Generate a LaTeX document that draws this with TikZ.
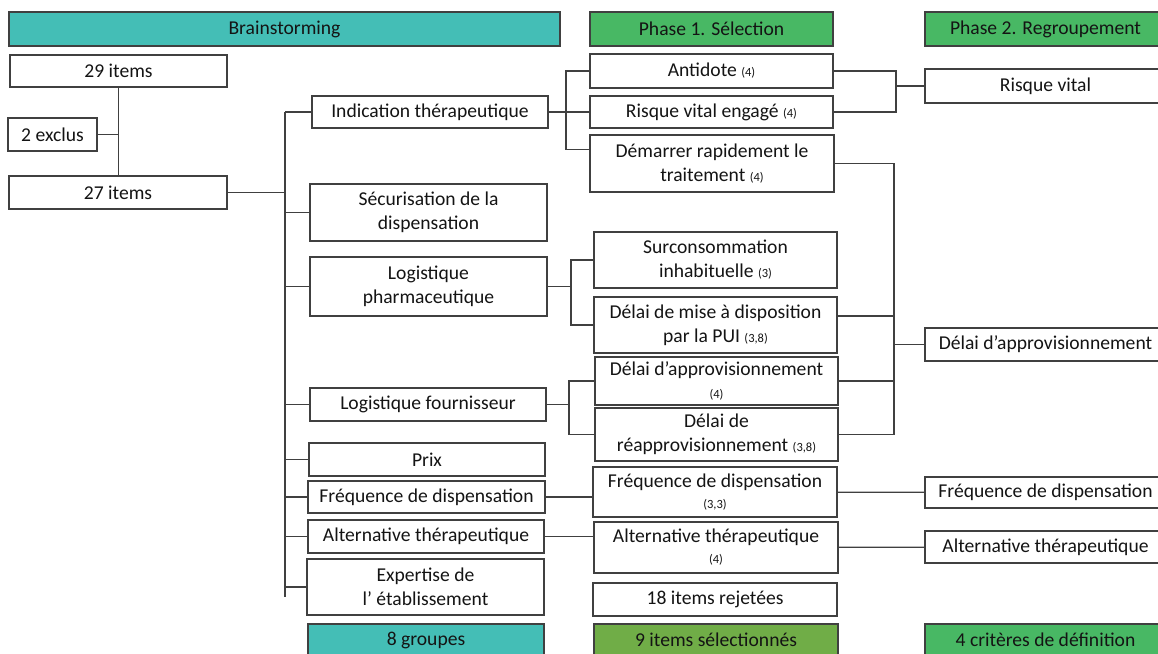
\documentclass[tikz,border=0pt]{standalone}
\usepackage{fontspec}
\setmainfont{Carlito}
\definecolor{brainteal}{RGB}{68,190,182}
\definecolor{phasegreen}{RGB}{72,184,100}
\definecolor{selgreen}{RGB}{112,173,71}
\definecolor{linegray}{RGB}{64,64,64}
\definecolor{txtgray}{RGB}{20,20,20}
\newcommand{\nb}[1]{{\fontsize{12.5}{15}\selectfont(#1)}}
\tikzset{
  cell/.style={draw=linegray, fill=white, text=txtgray, align=center, inner sep=0pt,
    line width=1.3pt, font=\fontsize{19.6}{24}\selectfont},
  hdr/.style={cell, fill=#1},
  sz/.style 2 args={minimum width=#1, minimum height=#2},
  link/.style={draw=linegray, line width=1.3pt},
}
\begin{document}
\begin{tikzpicture}[x=1pt,y=-1pt]
\useasboundingbox (0,0) rectangle (1158,653);
% headers
\node[hdr=brainteal, sz={551}{34}] (hBrain) at (284.5,29) {Brainstorming};
\node[hdr=phasegreen, sz={243}{34}] (hSel) at (711.5,29) {Phase 1. Sélection};
\node[hdr=phasegreen, sz={241}{34}] (hReg) at (1045.5,29) {Phase 2. Regroupement};
% brainstorming
\node[cell, sz={217}{32}] (n29) at (118.5,71) {29 items};
\node[cell, sz={89}{33}] (nExcl) at (52.5,134.5) {2 exclus};
\node[cell, sz={218}{33}] (n27) at (118,192.5) {27 items};
% groups
\node[cell, sz={236}{32}] (gInd) at (430,112) {Indication thérapeutique};
\node[cell, sz={237}{57}] (gSec) at (428.5,212.5) {Sécurisation de la\\dispensation};
\node[cell, sz={237}{59}] (gLogP) at (428.5,286.5) {Logistique\\pharmaceutique};
\node[cell, sz={236}{33}] (gLogF) at (428,404.5) {Logistique fournisseur};
\node[cell, sz={236}{33}] (gPrix) at (427,459.5) {Prix};
\node[cell, sz={237}{32}] (gFreq) at (426.5,497) {Fréquence de dispensation};
\node[cell, sz={236}{33}] (gAlt) at (426,536.5) {Alternative thérapeutique};
\node[cell, sz={237}{56}] (gExp) at (425.5,587) {Expertise de\\l’ établissement};
\node[hdr=brainteal, sz={236}{32}] (bGroups) at (426,640) {8 groupes};
% phase 1
\node[cell, sz={243}{34}] (sAnt) at (711.5,71) {Antidote \nb{4}};
\node[cell, sz={243}{32}] (sRisk) at (711.5,112) {Risque vital engagé \nb{4}};
\node[cell, sz={244}{57}] (sDem) at (712,163.5) {Démarrer rapidement le\\traitement \nb{4}};
\node[cell, sz={243}{56}] (sSur) at (715.5,260) {Surconsommation\\inhabituelle \nb{3}};
\node[cell, sz={243}{56}] (sPUI) at (715.5,325) {Délai de mise à disposition\\par la PUI \nb{3,8}};
\node[cell, sz={243}{48}] (sDelai) at (716.5,381) {Délai d’approvisionnement\\[-1pt]\nb{4}};
\node[cell, sz={243}{53}] (sReap) at (716.5,434.5) {Délai de\\réapprovisionnement \nb{3,8}};
\node[cell, sz={244}{50}] (sFreq) at (715,492) {Fréquence de dispensation\\[-3pt]\nb{3,3}};
\node[cell, sz={244}{51}] (sAlt) at (716,547.5) {Alternative thérapeutique\\[-3pt]\nb{4}};
\node[cell, sz={244}{33}] (sRej) at (715,599.5) {18 items rejetées};
\node[hdr=selgreen, sz={244}{32}] (bSel) at (716,640) {9 items sélectionnés};
% phase 2
\node[cell, sz={241}{34}] (rVital) at (1045.5,86) {Risque vital};
\node[cell, sz={241}{33}] (rDelai) at (1045.5,344.5) {Délai d’approvisionnement};
\node[cell, sz={241}{31}] (rFreq) at (1045.5,492.5) {Fréquence de dispensation};
\node[cell, sz={241}{32}] (rAlt) at (1045.5,547) {Alternative thérapeutique};
\node[hdr=phasegreen, sz={241}{32}] (bCrit) at (1045.5,640) {4 critères de définition};
% bracket points
\coordinate (kTrunk) at (285,112);
\coordinate (kTrunkEnd) at (285,597);
\coordinate (kInd) at (566,112);
\coordinate (kLogP) at (571,286.5);
\coordinate (kLogF) at (569,404.5);
\coordinate (kVital) at (896,86);
\coordinate (kDelai) at (894,344.5);
% connectors
\draw[link] (n29.south) -- (n29.south |- n27.north);
\draw[link] (nExcl) -- (nExcl -| n29.south);
\draw[link] (n27) -- (n27 -| kTrunk);
\draw[link] (kTrunk) -- (kTrunkEnd);
\foreach \g in {gInd,gSec,gLogP,gLogF,gPrix,gFreq,gAlt,gExp}
  \draw[link] (\g) -- (\g -| kTrunk);
\draw[link] (gInd) -- (sRisk);
\draw[link] (sAnt) -| (kInd) |- ([yshift=14pt]sDem.west);
\draw[link] (gLogP) -- (kLogP);
\draw[link] (sSur) -| (kLogP) |- (sPUI);
\draw[link] (gLogF) -- (kLogF);
\draw[link] (sDelai) -| (kLogF) |- (sReap);
\draw[link] (sAnt) -| (kVital) |- (sRisk);
\draw[link] (kVital) -- (rVital);
\draw[link] (sDem) -| (kDelai) |- (sReap);
\draw[link] ([yshift=9pt]sPUI.east) -- ([yshift=9pt]sPUI.east -| kDelai);
\draw[link] (sDelai) -- (sDelai -| kDelai);
\draw[link] (kDelai) -- (rDelai);
\draw[link] (gFreq) -- (gFreq -| sFreq.west);
\draw[link] (sFreq) -- (rFreq);
\draw[link] (gAlt) -- (gAlt -| sAlt.west);
\draw[link] (sAlt) -- (rAlt);
\end{tikzpicture}
\end{document}
